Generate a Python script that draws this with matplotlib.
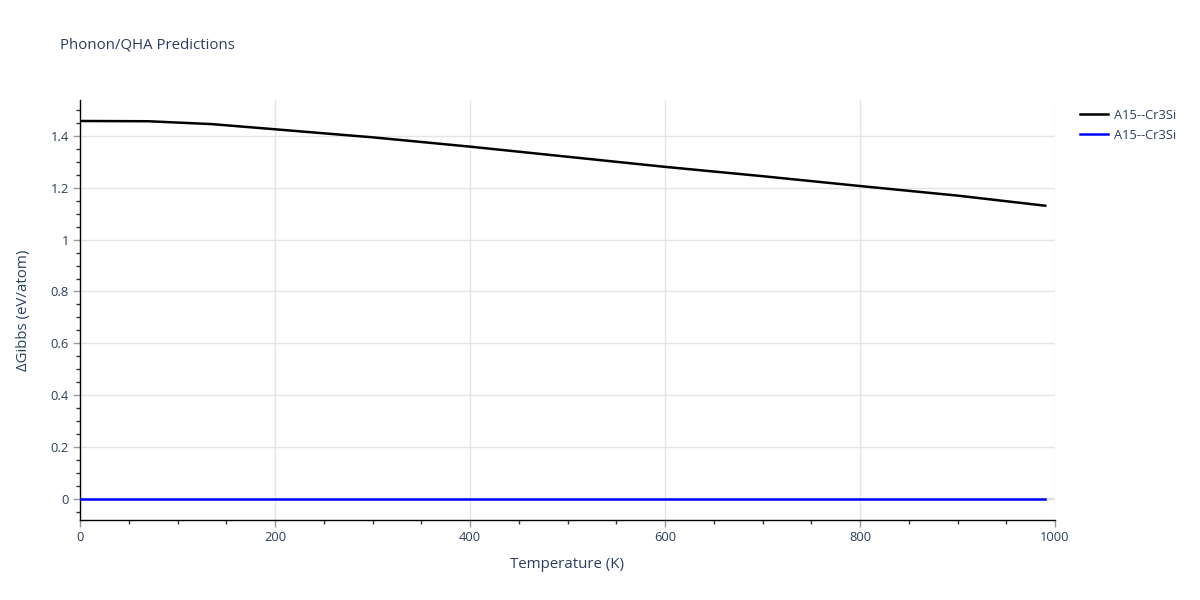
import matplotlib
matplotlib.use('Agg')
import matplotlib.pyplot as plt
import matplotlib.ticker as ticker

# Gibbs energy difference vs temperature
temperature = [0, 70, 135, 200, 245, 300, 400, 500, 600, 700, 800, 900, 990]
dgibbs_a15 = [1.458, 1.457, 1.446, 1.426, 1.412, 1.395, 1.359, 1.320,
              1.281, 1.245, 1.207, 1.170, 1.131]
dgibbs_ref = [0.0] * len(temperature)
series_labels = ['A15--Cr3Si', 'A15--Cr3Si']

TEXT = '#2a3f5f'
plt.rcParams['font.family'] = ['Open Sans', 'DejaVu Sans']

fig = plt.figure(figsize=(12, 6), dpi=100)
ax = fig.add_axes([80 / 1200, 80 / 600, 975 / 1200, 420 / 600])

ax.axhline(0, color='#e0e0e0', linewidth=1.5, zorder=1)
ax.plot(temperature, dgibbs_a15, color='black', linewidth=1.8,
        label=series_labels[0], zorder=3)
ax.plot(temperature, dgibbs_ref, color='blue', linewidth=1.8,
        label=series_labels[1], zorder=3)

ax.set_xlim(0, 1000)
ax.set_ylim(-0.082, 1.539)
ax.xaxis.set_major_locator(ticker.MultipleLocator(200))
ax.xaxis.set_minor_locator(ticker.MultipleLocator(50))
ax.yaxis.set_major_locator(ticker.MultipleLocator(0.2))
ax.yaxis.set_minor_locator(ticker.MultipleLocator(0.05))
ax.yaxis.set_major_formatter(ticker.FuncFormatter(lambda v, p: f'{v:g}'))

ax.grid(True, which='major', color='#e5e5e5', linewidth=1, zorder=0)
ax.set_axisbelow(True)
for side in ['top', 'right']:
    ax.spines[side].set_visible(False)
for side in ['left', 'bottom']:
    ax.spines[side].set_color('black')
    ax.spines[side].set_linewidth(1)

ax.tick_params(which='major', direction='out', length=5, width=1,
               color='#999999', labelcolor=TEXT, labelsize=9.3, pad=3)
ax.tick_params(which='minor', direction='out', length=3, width=1,
               color='#333333')

ax.set_xlabel('Temperature (K)', color=TEXT, fontsize=10.8, labelpad=9)
ax.set_ylabel('ΔGibbs (eV/atom)', color=TEXT, fontsize=10.8, labelpad=14)
fig.text(60 / 1200, 1 - 45 / 600, 'Phonon/QHA Predictions', color=TEXT,
         fontsize=10.8, va='center', ha='left')

leg = ax.legend(loc='upper left', bbox_to_anchor=(1.02, 0.992), frameon=False,
                fontsize=9.3, handlelength=2.2, handletextpad=0.45,
                labelspacing=0.55, borderaxespad=0)
for t in leg.get_texts():
    t.set_color(TEXT)

fig.savefig('out.png', dpi=100)
